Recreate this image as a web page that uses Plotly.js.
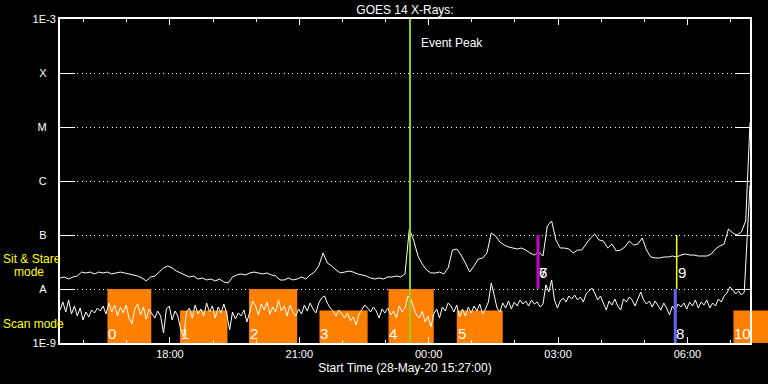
<!DOCTYPE html>
<html><head><meta charset="utf-8">
<script src="https://cdn.plot.ly/plotly-3.0.1.min.js"></script>
<style>html,body{margin:0;padding:0;background:#000;}#chart{width:768px;height:384px;}</style>
</head><body><div id="chart"></div>
<script>
// ---- data ----
const startTime = '2020-05-28 15:27';
const rangeEnd = '2020-05-29 07:27';

// GOES 14 long channel (upper curve), one sample every 6 minutes from startTime
const longStepMin = 6;
const longFlux = [
1.60e-8,1.67e-8,1.53e-8,1.67e-8,1.74e-8,2.06e-8,1.98e-8,2.06e-8,1.90e-8,2.06e-8,
1.98e-8,2.06e-8,1.90e-8,1.98e-8,2.06e-8,1.98e-8,1.90e-8,1.82e-8,1.74e-8,1.60e-8,
1.41e-8,1.67e-8,1.74e-8,2.06e-8,2.45e-8,2.67e-8,2.45e-8,2.15e-8,1.98e-8,1.82e-8,
1.67e-8,1.74e-8,1.53e-8,1.60e-8,1.47e-8,1.53e-8,1.41e-8,1.53e-8,1.35e-8,1.29e-8,
1.67e-8,1.82e-8,1.90e-8,1.82e-8,1.98e-8,2.06e-8,1.98e-8,1.90e-8,1.98e-8,1.82e-8,
1.74e-8,1.47e-8,1.47e-8,1.60e-8,1.47e-8,1.53e-8,1.67e-8,1.53e-8,1.82e-8,2.06e-8,
2.67e-8,4.64e-8,3.03e-8,2.67e-8,2.25e-8,1.98e-8,2.06e-8,2.15e-8,2.06e-8,1.90e-8,
1.82e-8,1.74e-8,1.60e-8,1.53e-8,1.60e-8,1.53e-8,1.67e-8,1.67e-8,1.74e-8,1.67e-8,
1.90e-8,1.29e-7,8.08e-8,4.08e-8,2.90e-8,2.25e-8,1.98e-8,1.98e-8,2.06e-8,1.90e-8,
2.45e-8,5.27e-8,5.50e-8,4.26e-8,3.03e-8,2.06e-8,2.67e-8,3.59e-8,3.75e-8,4.64e-8,
1.09e-7,9.58e-8,7.42e-8,6.53e-8,6.00e-8,5.74e-8,5.50e-8,5.74e-8,5.27e-8,4.64e-8,
4.26e-8,4.84e-8,4.08e-8,1.47e-7,1.82e-7,8.08e-8,5.74e-8,5.74e-8,5.50e-8,4.64e-8,
5.27e-8,5.27e-8,6.81e-8,8.80e-8,1.04e-7,8.08e-8,7.74e-8,5.74e-8,6.81e-8,5.05e-8,
5.27e-8,6.00e-8,7.74e-8,6.53e-8,6.81e-8,8.80e-8,5.27e-8,3.91e-8,3.75e-8,3.75e-8,
3.91e-8,3.91e-8,4.08e-8,3.91e-8,4.26e-8,4.45e-8,4.26e-8,4.26e-8,4.08e-8,4.08e-8,
4.08e-8,4.45e-8,5.50e-8,6.26e-8,6.81e-8,1.29e-7,1.09e-7,1.00e-7,1.14e-7,1.82e-7,
1.19e-5
];

// GOES 14 short channel (lower curve), one sample every 4 minutes from startTime
const shortStepMin = 4;
const shortFlux = [
4.08e-9,5.74e-9,3.75e-9,6.26e-9,3.44e-9,4.84e-9,3.16e-9,4.45e-9,2.67e-9,3.75e-9,
3.03e-9,4.08e-9,3.59e-9,4.45e-9,3.91e-9,4.84e-9,3.44e-9,5.50e-9,3.75e-9,5.05e-9,
3.16e-9,4.64e-9,3.59e-9,5.05e-9,2.90e-9,2.25e-9,4.26e-9,5.27e-9,3.30e-9,4.64e-9,
2.78e-9,4.26e-9,3.44e-9,2.90e-9,3.91e-9,3.16e-9,1.53e-9,4.26e-9,4.84e-9,2.67e-9,
3.91e-9,3.16e-9,1.74e-9,1.29e-9,3.75e-9,4.45e-9,2.90e-9,5.05e-9,3.44e-9,4.26e-9,
3.16e-9,5.50e-9,3.75e-9,4.84e-9,2.90e-9,4.64e-9,3.59e-9,5.27e-9,3.44e-9,1.74e-9,
3.75e-9,2.78e-9,3.59e-9,3.16e-9,4.08e-9,2.45e-9,3.75e-9,6.00e-9,4.84e-9,3.30e-9,
5.27e-9,4.08e-9,5.74e-9,3.44e-9,4.64e-9,3.75e-9,6.26e-9,3.91e-9,4.84e-9,3.16e-9,
5.05e-9,3.75e-9,3.16e-9,4.26e-9,3.44e-9,5.05e-9,3.91e-9,5.50e-9,4.26e-9,3.59e-9,
5.50e-9,6.81e-9,7.42e-9,5.50e-9,4.45e-9,3.91e-9,3.16e-9,4.08e-9,3.44e-9,2.90e-9,
3.59e-9,2.56e-9,3.03e-9,2.15e-9,3.44e-9,4.08e-9,5.05e-9,4.45e-9,3.75e-9,4.64e-9,
3.91e-9,2.90e-9,4.26e-9,3.59e-9,4.45e-9,3.30e-9,3.91e-9,2.90e-9,4.84e-9,3.75e-9,
4.45e-9,7.42e-9,6.53e-9,4.45e-9,3.30e-9,2.90e-9,3.91e-9,2.45e-9,3.16e-9,1.98e-9,
3.44e-9,4.26e-9,2.90e-9,4.64e-9,3.91e-9,5.50e-9,4.84e-9,3.75e-9,5.05e-9,3.03e-9,
4.26e-9,3.16e-9,4.64e-9,3.59e-9,4.84e-9,3.91e-9,5.27e-9,3.44e-9,4.26e-9,5.74e-9,
1.29e-8,7.74e-9,4.45e-9,3.75e-9,5.50e-9,4.45e-9,6.00e-9,4.26e-9,5.74e-9,4.84e-9,
6.26e-9,5.27e-9,6.00e-9,4.84e-9,6.26e-9,5.27e-9,5.74e-9,4.64e-9,5.27e-9,1.19e-8,
8.80e-9,1.47e-8,6.26e-9,4.45e-9,6.00e-9,6.81e-9,5.74e-9,7.42e-9,6.53e-9,7.74e-9,
6.26e-9,7.11e-9,5.74e-9,8.08e-9,9.18e-9,1.04e-8,8.43e-9,6.26e-9,7.42e-9,5.50e-9,
4.08e-9,6.00e-9,5.05e-9,6.53e-9,4.84e-9,4.08e-9,6.53e-9,5.74e-9,7.11e-9,6.26e-9,
4.84e-9,6.53e-9,8.80e-9,6.26e-9,5.27e-9,6.00e-9,4.64e-9,6.00e-9,5.05e-9,4.08e-9,
5.50e-9,4.45e-9,3.30e-9,4.84e-9,4.08e-9,5.27e-9,4.64e-9,5.50e-9,4.26e-9,5.74e-9,
4.84e-9,6.26e-9,4.45e-9,5.74e-9,5.05e-9,6.26e-9,4.45e-9,5.50e-9,4.84e-9,6.53e-9,
5.74e-9,7.42e-9,8.43e-9,1.09e-8,9.58e-9,8.08e-9,9.18e-9,7.74e-9,8.80e-9,8.08e-8,
8.43e-7
];

// scan-mode periods (orange boxes)
const scanStart = ['2020-05-28 16:33','2020-05-28 18:14','2020-05-28 19:50','2020-05-28 21:28','2020-05-28 23:04','2020-05-29 00:39','2020-05-29 07:04'];
const scanEnd   = ['2020-05-28 17:34','2020-05-28 19:20','2020-05-28 20:57','2020-05-28 22:35','2020-05-29 00:07','2020-05-29 01:43','2020-05-29 07:52'];
const scanTop   = [1e-8, 4e-9, 1e-8, 4e-9, 1e-8, 4e-9, 4e-9];
const scanBottom = 1e-9;

// event peak and observation markers
const eventPeakTime = '2020-05-28 23:34';
const eventPeakLow = 1e-9, eventPeakHigh = 1e-3;
const markerTimes = ['2020-05-29 02:32','2020-05-29 05:45','2020-05-29 05:43'];
const markerLow   = [1e-8, 1e-8, 1e-9];
const markerHigh  = [1e-7, 1e-7, 1e-8];

// numbered observation labels
const labelText = ['0','1','2','3','4','5','6','7','8','9','10'];
const labelTime = ['2020-05-28 16:33','2020-05-28 18:14','2020-05-28 19:50','2020-05-28 21:28','2020-05-28 23:04','2020-05-29 00:39','2020-05-29 02:32','2020-05-29 02:32','2020-05-29 05:43','2020-05-29 05:45','2020-05-29 07:04'];
const labelFlux = [1.53e-9,1.53e-9,1.53e-9,1.53e-9,1.53e-9,1.53e-9,2.06e-8,2.06e-8,1.53e-9,2.06e-8,1.53e-9];

// axis ticks
const yTickVals = [1e-9,1e-8,1e-7,1e-6,1e-5,1e-4,1e-3];
const yTickText = ['1E-9','A','B','C','M','X','1E-3'];

// ---- helpers ----
function addMinutes(base, m) {
  const [d, t] = base.split(' ');
  const [Y, Mo, D] = d.split('-').map(Number);
  const [h, mi] = t.split(':').map(Number);
  const ms = Date.UTC(Y, Mo - 1, D, h, mi) + m * 60000;
  return new Date(ms).toISOString().slice(0, 19).replace('T', ' ');
}
const longTimes = longFlux.map((_, i) => addMinutes(startTime, i * longStepMin));
const shortTimes = shortFlux.map((_, i) => addMinutes(startTime, i * shortStepMin));

const ORANGE = '#ff8000';
const FONT = 'Liberation Sans, Arial, sans-serif';
const markerColors = ['#c800c8', '#ffff00', '#6464ff'];
const markerWidths = [3, 1.5, 3];

const traces = [];
scanStart.forEach((s, i) => {
  traces.push({
    type: 'scatter', mode: 'lines',
    x: [s, scanEnd[i], scanEnd[i], s, s],
    y: [scanBottom, scanBottom, scanTop[i], scanTop[i], scanBottom],
    fill: 'toself', fillcolor: ORANGE, line: {width: 0, color: ORANGE},
    hoverinfo: 'skip'
  });
});
traces.push({type: 'scatter', mode: 'lines', x: longTimes, y: longFlux, line: {color: '#ffffff', width: 1}});
traces.push({type: 'scatter', mode: 'lines', x: shortTimes, y: shortFlux, line: {color: '#ffffff', width: 1}});
traces.push({type: 'scatter', mode: 'lines', x: [eventPeakTime, eventPeakTime], y: [eventPeakLow, eventPeakHigh], line: {color: '#9acd1a', width: 2}});
markerTimes.forEach((t, i) => {
  traces.push({type: 'scatter', mode: 'lines', x: [t, t], y: [markerLow[i], markerHigh[i]], line: {color: markerColors[i], width: markerWidths[i]}});
});

const annotations = labelText.map((txt, i) => ({
  text: txt, x: labelTime[i], y: Math.log10(labelFlux[i]), xref: 'x', yref: 'y',
  xanchor: 'left', yanchor: 'middle', showarrow: false, borderpad: 0,
  font: {family: FONT, size: 15, color: '#ffffff'}
}));
annotations.push({text: 'Event Peak', x: eventPeakTime, xref: 'x', xshift: 10, y: (343 - 43) / 324, yref: 'paper',
  xanchor: 'left', yanchor: 'middle', showarrow: false, borderpad: 0, font: {family: FONT, size: 12, color: '#ffffff'}});
annotations.push({text: 'Sit & Stare', x: (2 - 60) / 690, xref: 'paper', y: (343 - 258.5) / 324, yref: 'paper',
  xanchor: 'left', yanchor: 'middle', showarrow: false, borderpad: 0, font: {family: FONT, size: 12, color: '#ffff00'}});
annotations.push({text: 'mode', x: (13 - 60) / 690, xref: 'paper', y: (343 - 271.5) / 324, yref: 'paper',
  xanchor: 'left', yanchor: 'middle', showarrow: false, borderpad: 0, font: {family: FONT, size: 12, color: '#ffff00'}});
annotations.push({text: 'Scan mode', x: (2 - 60) / 690, xref: 'paper', y: (343 - 324) / 324, yref: 'paper',
  xanchor: 'left', yanchor: 'middle', showarrow: false, borderpad: 0, font: {family: FONT, size: 12, color: '#ffff00'}});

const NB = '\u00a0\u00a0\u00a0';
const layout = {
  width: 768, height: 384,
  paper_bgcolor: '#000000', plot_bgcolor: '#000000',
  margin: {l: 60, r: 18, t: 19, b: 41},
  showlegend: false, hovermode: false,
  font: {family: FONT, color: '#ffffff', size: 11},
  title: {text: 'GOES 14 X-Rays:', font: {family: FONT, size: 12, color: '#ffffff'},
    x: 0.5, xref: 'paper', xanchor: 'center', y: 1 - 10 / 384, yref: 'container', yanchor: 'middle'},
  xaxis: {
    type: 'date', range: [startTime, rangeEnd],
    tick0: '2020-05-28 18:00', dtick: 3 * 3600000, tickformat: '%H:%M',
    ticks: 'inside', ticklen: 6, tickwidth: 1, tickcolor: '#ffffff',
    minor: {dtick: 3600000, ticks: 'inside', ticklen: 3, tickwidth: 1, tickcolor: '#ffffff', showgrid: false},
    showline: true, linecolor: '#ffffff', linewidth: 2, mirror: 'allticks',
    showgrid: false, zeroline: false,
    tickfont: {family: FONT, size: 11, color: '#ffffff'},
    title: {text: 'Start Time (28-May-20 15:27:00)', font: {family: FONT, size: 12, color: '#ffffff'}, standoff: 4}
  },
  yaxis: {
    type: 'log', range: [-9, -3],
    tickvals: yTickVals, ticktext: yTickText.map(t => t.length === 1 ? t + NB : t),
    ticks: 'inside', ticklen: 15, tickwidth: 1, tickcolor: '#ffffff',
    showline: true, linecolor: '#ffffff', linewidth: 2, mirror: 'allticks',
    showgrid: true, gridcolor: '#ffffff', gridwidth: 1, griddash: '1px,3.3px',
    zeroline: false,
    tickfont: {family: FONT, size: 11, color: '#ffffff'}
  },
  shapes: [{
    type: 'rect', xref: 'paper', yref: 'y', x0: 1, x1: 1 + 18 / 690,
    y0: scanBottom, y1: scanTop[6], fillcolor: ORANGE, line: {width: 0}, layer: 'below'
  }],
  annotations: annotations
};

Plotly.newPlot('chart', traces, layout, {staticPlot: true, displayModeBar: false});
</script></body></html>
